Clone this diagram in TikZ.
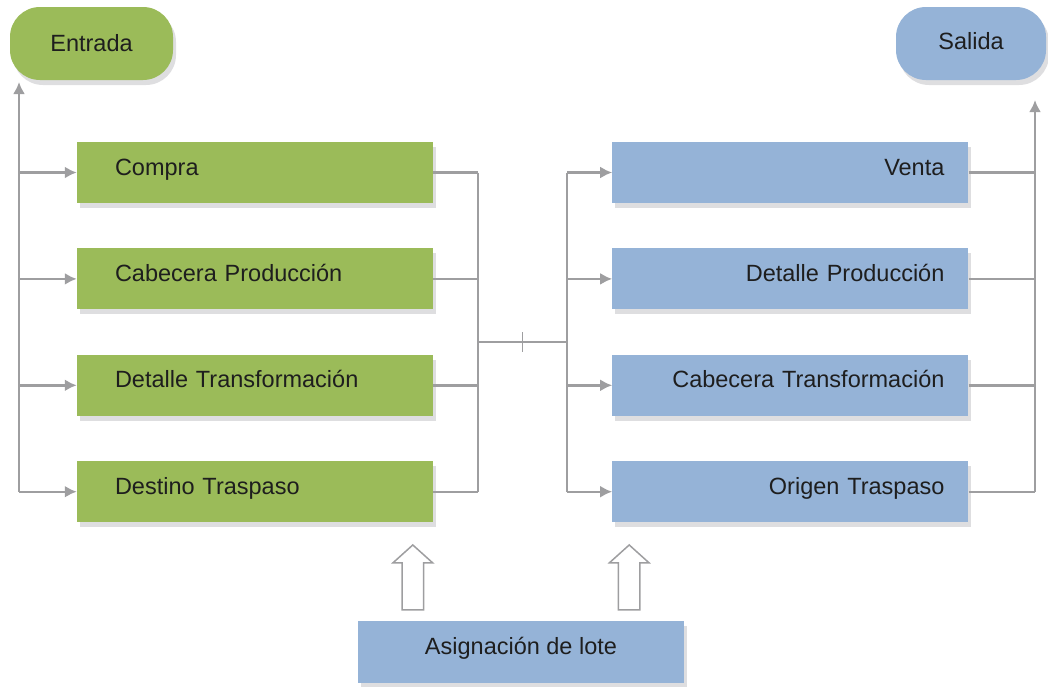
\documentclass[tikz,border=0pt]{standalone}
\usepackage{fontspec}
\setmainfont{Liberation Sans}
\usetikzlibrary{arrows, arrows.meta, calc, positioning, shadows, shapes.arrows}
\definecolor{verde}{RGB}{155,187,89}
\definecolor{azul}{RGB}{149,179,215}
\definecolor{gris}{RGB}{158,158,160}
\definecolor{sombra}{RGB}{222,222,224}
\definecolor{texto}{RGB}{30,30,30}

\tikzset{
  sombreada/.style={drop shadow={shadow xshift=3pt, shadow yshift=-5pt, fill=sombra, opacity=1}},
  caja/.style={sombreada, minimum width=356pt, minimum height=61pt, inner sep=0pt, text height=16pt, text depth=11pt, text=texto},
  entradas/.style={caja, fill=verde, text width=280pt, align=left},
  salidas/.style={caja, fill=azul, text width=308pt, align=right},
  extremo/.style={sombreada, minimum height=73pt, rounded corners=30pt, text=texto},
  conector/.style={draw=gris, line width=2.4pt},
  hueca/.style={single arrow, rotate=90, draw=gris, fill=white, line width=1.5pt, inner xsep=0pt, inner ysep=10pt, minimum height=65pt, single arrow head extend=9pt, single arrow tip angle=96}
}

\begin{document}
\begin{tikzpicture}[x=1pt, y=-1pt, >={Latex[length=12pt, width=12pt]}, font=\fontsize{23.5}{28}\selectfont, node distance=45pt and 179pt]
\useasboundingbox (0,0) rectangle (1048,686);

\node[extremo, fill=verde, minimum width=163pt] (entrada) at (91.5,43.5) {Entrada};
\node[extremo, fill=azul, minimum width=150pt, text height=20pt, text depth=9pt] (salida) at (971,43.5) {Salida};

\node[entradas] (e1) at (255,172.5) {Compra};
\node[entradas, below=of e1] (e2) {Cabecera Producción};
\node[entradas, below=of e2] (e3) {Detalle Transformación};
\node[entradas, below=of e3] (e4) {Destino Traspaso};

\node[salidas, right=of e1] (s1) {Venta};
\node[salidas, right=of e2] (s2) {Detalle Producción};
\node[salidas, right=of e3] (s3) {Cabecera Transformación};
\node[salidas, right=of e4] (s4) {Origen Traspaso};

\node[caja, fill=azul, minimum width=326pt, minimum height=62pt] (asig) at (521,652) {Asignación de lote};

\coordinate (bizq) at (19,82);
\coordinate (bder) at (1035,100);
\coordinate (nodoI) at (478,342);
\coordinate (nodoD) at (567,342);

% bus de entrada
\draw[conector, ->] (bizq |- e4.west) -- (bizq);
\foreach \n in {1,...,4}
  \draw[conector, ->] (bizq |- e\n.west) -- (e\n.west);

% union central
\foreach \n in {1,...,4}
  \draw[conector] (e\n.east) -- (e\n.east -| nodoI);
\draw[conector] (nodoI |- e1.east) -- (nodoI |- e4.east);
\draw[conector] (nodoI) -- (nodoD);
\draw[conector, line width=1pt] ($(nodoI)!0.5!(nodoD)$) ++(0,-10) -- ++(0,20);
\draw[conector] (nodoD |- s1.west) -- (nodoD |- s4.west);
\foreach \n in {1,...,4}
  \draw[conector, ->] (nodoD |- s\n.west) -- (s\n.west);

% bus de salida
\foreach \n in {1,...,4}
  \draw[conector] (s\n.east) -- (s\n.east -| bder);
\draw[conector, ->] (bder |- s4.east) -- (bder);

\node[hueca] (h1) at ($(asig.north west)+(55,-38.5)$) {};
\node[hueca] (h2) at ($(asig.north east)+(-55,-38.5)$) {};

\end{tikzpicture}
\end{document}
